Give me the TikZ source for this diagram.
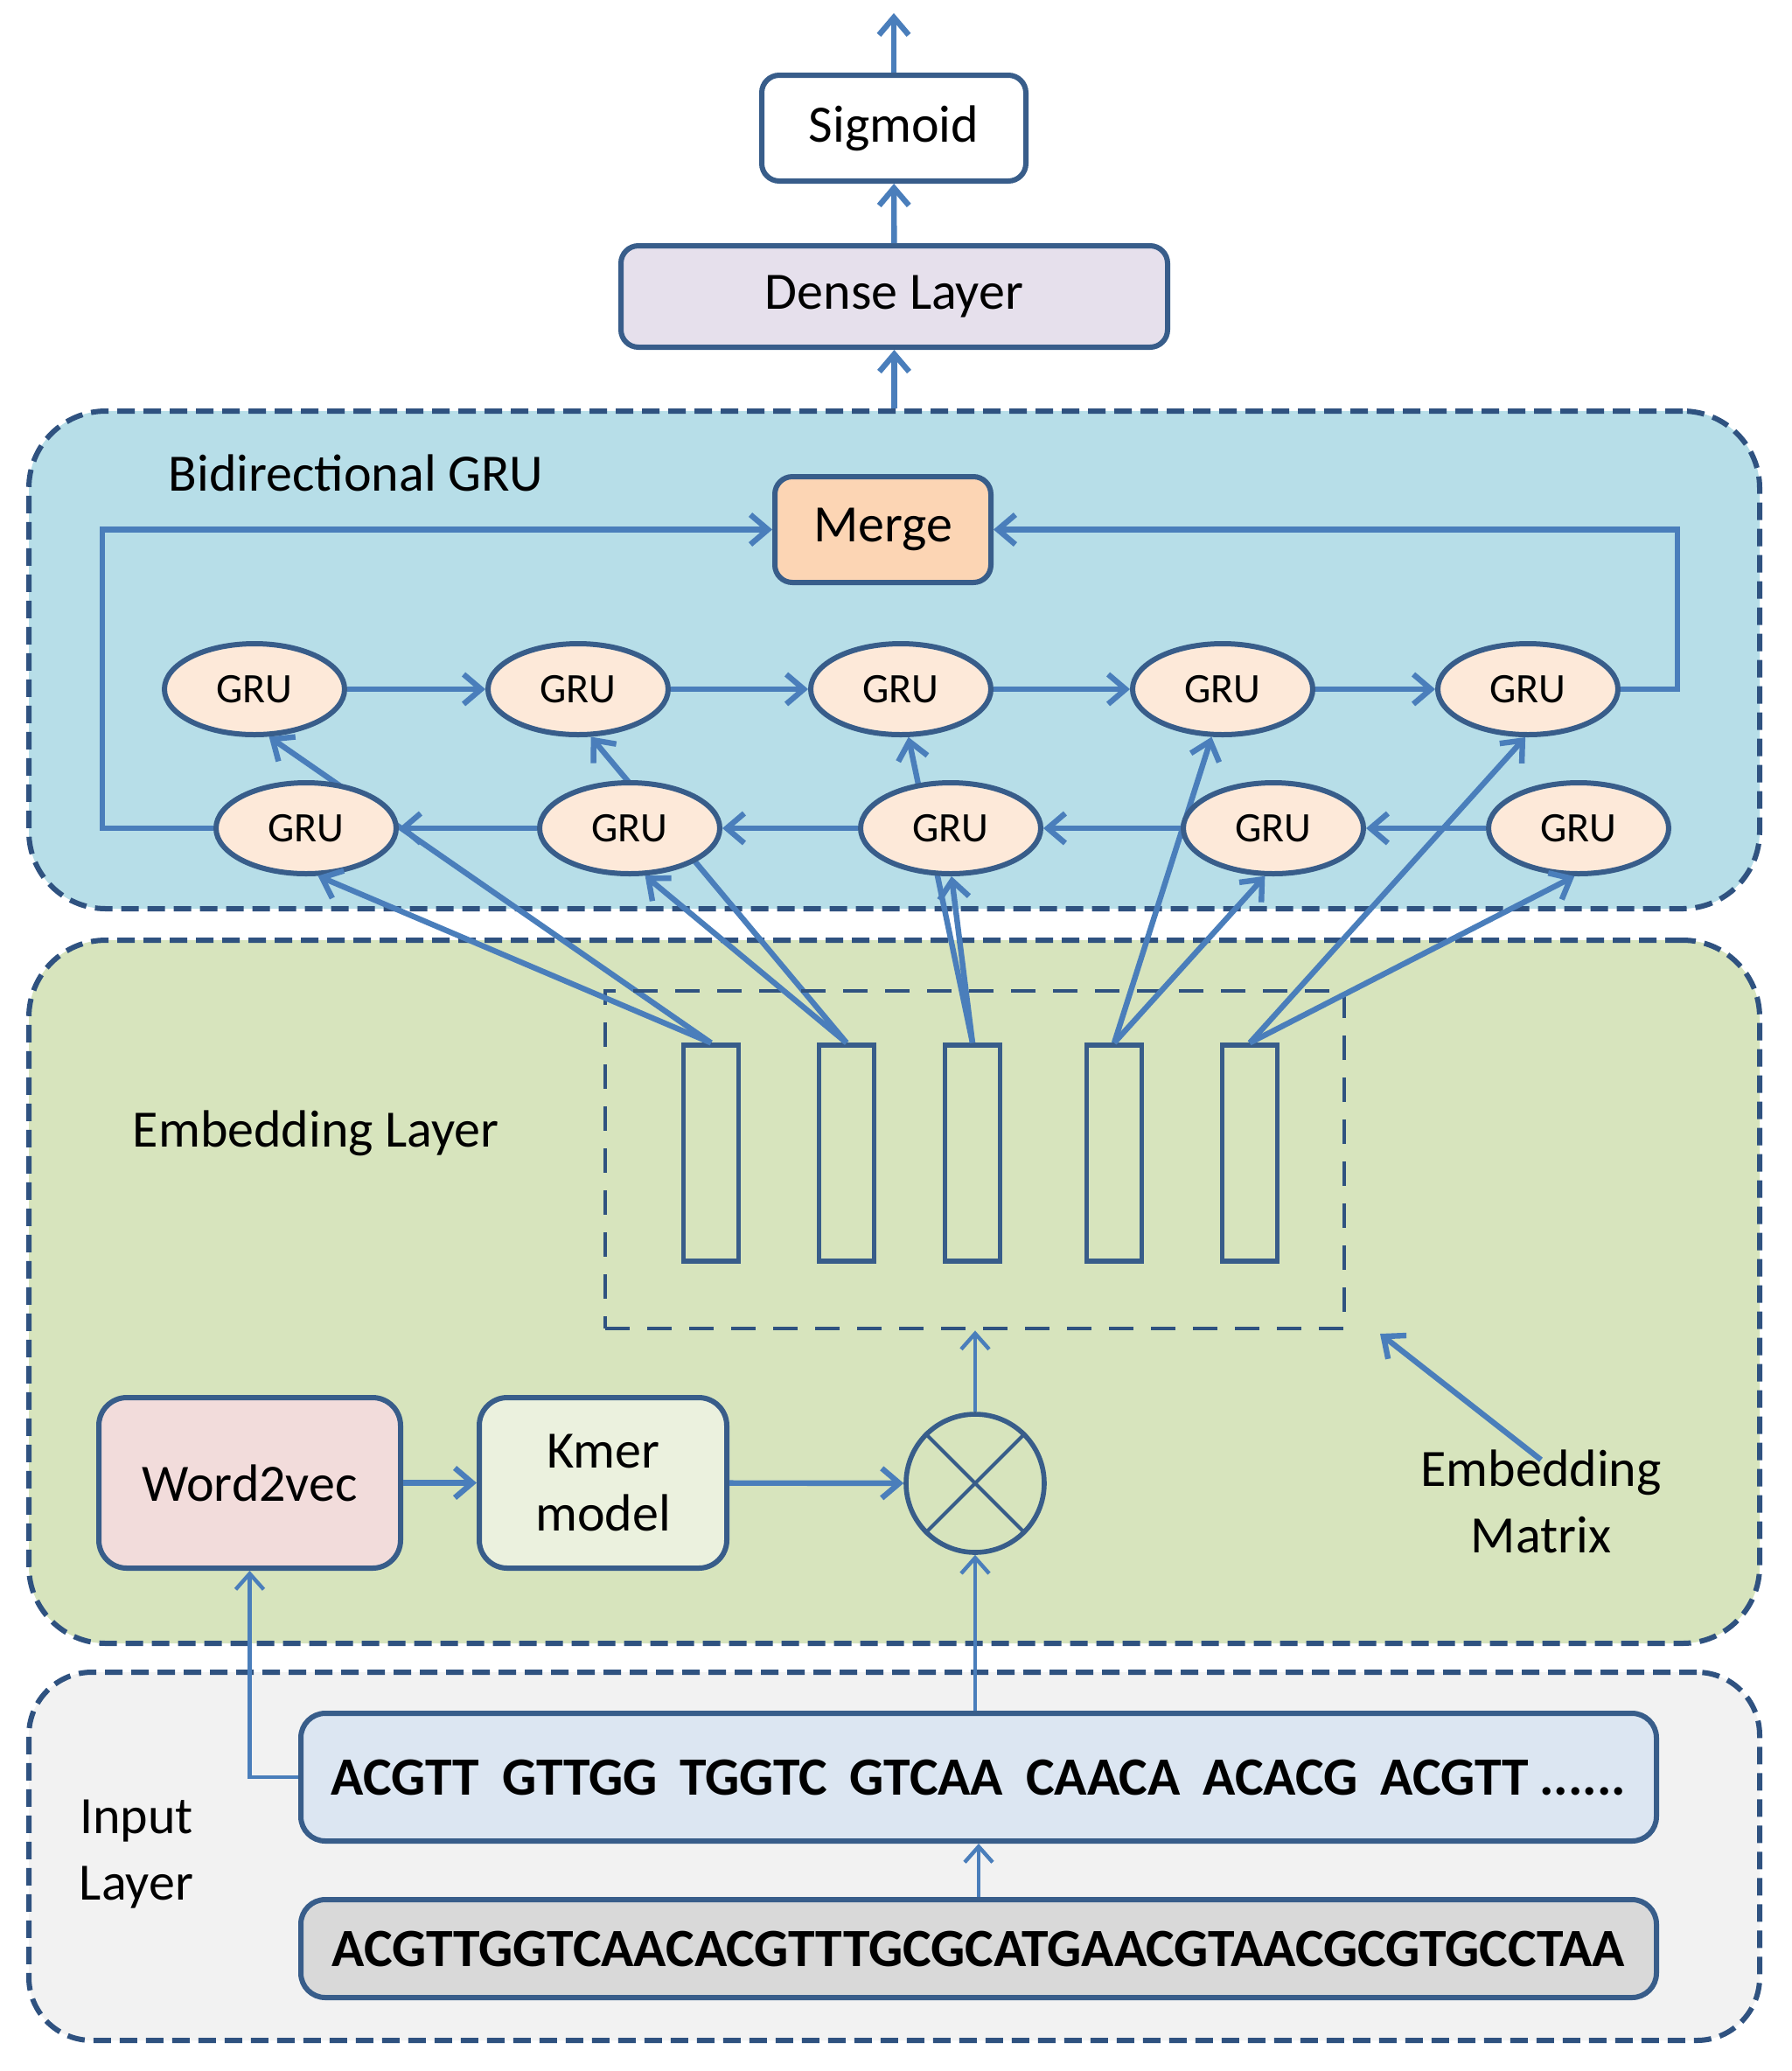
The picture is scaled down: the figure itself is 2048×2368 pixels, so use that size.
\documentclass[tikz,border=0pt]{standalone}
\usepackage{fontspec}
\setmainfont{Carlito}
\usetikzlibrary{arrows.meta,shapes.geometric}

\definecolor{edgeblue}{RGB}{56,93,138}
\definecolor{arrowblue}{RGB}{74,126,187}
\definecolor{dashblue}{RGB}{47,82,128}
\definecolor{grupanelfill}{RGB}{183,222,232}
\definecolor{embpanelfill}{RGB}{215,228,189}
\definecolor{inpanelfill}{RGB}{242,242,242}
\definecolor{grufill}{RGB}{253,233,217}
\definecolor{mergefill}{RGB}{252,213,180}
\definecolor{densefill}{RGB}{230,224,236}
\definecolor{wordfill}{RGB}{242,220,219}
\definecolor{kmerfill}{RGB}{235,241,222}
\definecolor{kseqfill}{RGB}{220,230,242}
\definecolor{rseqfill}{RGB}{217,217,217}

\newcommand{\seqgap}{\hspace{0.42em}}

\pgfdeclarelayer{panels}
\pgfdeclarelayer{wires}
\pgfsetlayers{panels,wires,main}

\tikzset{
	flow/.style={draw=arrowblue, line width=1.6pt, -{Straight Barb[length=5pt,width=8.5pt]}},
	thinflow/.style={draw=arrowblue, line width=1.1pt, -{Straight Barb[length=4.5pt,width=8pt]}},
	box/.style={draw=edgeblue, line width=1.5pt, rounded corners=5pt, align=center, inner sep=0pt, font=\fontsize{15}{18}\selectfont},
	gru/.style={ellipse, draw=edgeblue, fill=grufill, line width=1.5pt, minimum width=51.5pt, minimum height=26pt, inner sep=0pt, font=\fontsize{12}{14}\selectfont},
	panel/.style={draw=dashblue, line width=1.5pt, dash pattern=on 5pt off 2.5pt, rounded corners=22pt, minimum width=494.75pt},
	vecbar/.style={draw=edgeblue, line width=1.3pt, minimum width=15.75pt, minimum height=61.75pt, inner sep=0pt},
	layertext/.style={align=center, inner sep=2pt, font=\fontsize{15}{19}\selectfont}
}

\begin{document}
\begin{tikzpicture}[x=0.25pt,y=0.25pt,yscale=-1,xscale=1]
	\useasboundingbox (0,0) rectangle (2048,2368);

	%Shape: Rounded Rectangle [panels]
	\begin{pgfonlayer}{panels}
	\node [panel, fill=grupanelfill, minimum height=142.25pt] (grupanel) at (1022.5,754.5) {};
	\node [panel, fill=embpanelfill, minimum height=201pt] (embpanel) at (1022.5,1477) {};
	\node [panel, fill=inpanelfill, minimum height=105.25pt, rounded corners=18pt] (inpanel) at (1022.5,2122.5) {};
	\end{pgfonlayer}

	%Shape: Rounded Rectangle [output side]
	\node [box, fill=white, minimum width=75.5pt, minimum height=30.25pt] (sig) at (1022,146.5) {Sigmoid};
	\node [box, fill=densefill, minimum width=156.25pt, minimum height=29pt] (dense) at (1022.5,339) {Dense Layer};
	\coordinate (out) at (1022,15);

	\draw [flow] (sig) -- (out);
	\draw [flow] (dense) -- (sig);
	\draw [flow] (dense.south |- grupanel.north) -- (dense.south);

	% Text Node
	\node [layertext, anchor=west] (glabel) at (184,541) {Bidirectional GRU};

	%Shape: Rounded Rectangle [merge]
	\node [box, fill=mergefill, minimum width=61.75pt, minimum height=30.25pt] (merge) at (1009.5,605.5) {Merge};

	%Shape: Ellipse [forward and backward GRU]
	\foreach \i/\x in {1/291,2/661,3/1030,4/1398,5/1747}
		\node [gru] (T\i) at (\x,788) {GRU};
	\foreach \i/\x in {1/350,2/720,3/1087,4/1456,5/1805}
		\node [gru] (B\i) at (\x,947) {GRU};

	\foreach \i/\j in {1/2,2/3,3/4,4/5}
		\draw [flow] (T\i) -- (T\j);
	\foreach \i/\j in {5/4,4/3,3/2,2/1}
		\draw [flow] (B\i) -- (B\j);

	\draw [flow] (B1.west) -- ++(-127,0) |- (merge.west);
	\draw [flow] (T5.east) -- ++(65,0) |- (merge.east);

	% Text Node
	\node [layertext, anchor=west] (elabel) at (143,1296) {Embedding Layer};

	%Shape: Rectangle [embedding matrix]
	\node [draw=dashblue, line width=1.2pt, dash pattern=on 7pt off 5pt, minimum width=211.25pt, minimum height=96.5pt, inner sep=0pt] (emat) at (1114.5,1326) {};
	\foreach \i/\x in {1/813,2/968,3/1112,4/1274,5/1429}
		\node [vecbar] (E\i) at (\x,1318.5) {};

	% vectors into both GRU rows
	\foreach \i/\ta/\ba in {1/-73/-76,2/-75/-72,3/-81/-89,4/-103/-100,5/-93/-95}{
		\begin{pgfonlayer}{wires}
		\draw [flow] (E\i.north) -- (T\i.\ta);
		\end{pgfonlayer}
		\draw [flow] (E\i.north) -- (B\i.\ba);
	}

	%Shape: Circle [product]
	\node [circle, draw=edgeblue, line width=1.4pt, minimum size=39.5pt, inner sep=0pt] (mul) at (1115,1696) {};
	\draw [edgeblue, line width=1pt] (mul.45) -- (mul.225) (mul.135) -- (mul.-45);

	\node [box, fill=wordfill, rounded corners=8pt, minimum width=86.25pt, minimum height=48.75pt] (w2v) at (285.5,1695.5) {Word2vec};
	\node [box, fill=kmerfill, rounded corners=8pt, minimum width=70.75pt, minimum height=48.75pt] (kmer) at (689.5,1695.5) {Kmer\\model};

	\draw [flow] (w2v) -- (kmer);
	\draw [flow] (kmer) -- (mul);
	\draw [thinflow] (mul.north) -- (mul.north |- emat.south);

	% Text Node
	\node [layertext] (mlabel) at (1762,1717) {Embedding\\Matrix};
	\coordinate (mtip) at (1578,1525);
	\draw [flow] ([yshift=5pt]mlabel.north) -- (mtip);

	% Text Node
	\node [layertext] (ilabel) at (156,2120) {Input\\Layer};

	%Shape: Rounded Rectangle [sequences]
	\node [box, fill=kseqfill, rounded corners=7pt, minimum width=387.5pt, minimum height=36.5pt, font=\fontsize{15.4}{18}\selectfont] (kseq) at (1119,2032) {\bfseries ACGTT\seqgap GTTGG\seqgap TGGTC\seqgap GTCAA\seqgap CAACA\seqgap ACACG\seqgap ACGTT\hspace{0.2em}......};
	\node [box, fill=rseqfill, rounded corners=7pt, minimum width=387.5pt, minimum height=28pt, font=\fontsize{15.4}{18}\selectfont] (rseq) at (1119,2228) {\bfseries ACGTTGGTCAACACGTTTGCGCATGAACGTAACGCGTGCCTAA};

	\draw [thinflow] (rseq) -- (kseq);
	\draw [thinflow] (kseq.north -| mul) -- (mul.south);
	\draw [thinflow] (kseq.west) -| (w2v.south);

\end{tikzpicture}
\end{document}
